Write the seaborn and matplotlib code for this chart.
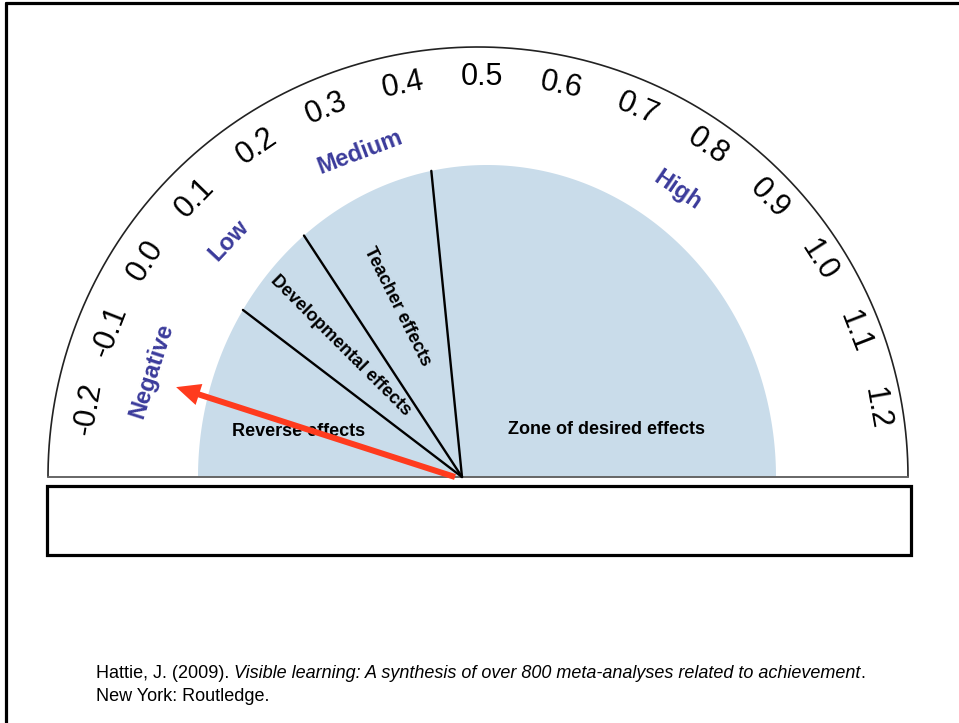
import numpy as np
import pandas as pd
import seaborn as sns
import matplotlib.pyplot as plt
from matplotlib.patches import Rectangle

# dial scale (effect size d)
tick_values = [-0.2, -0.1, 0.0, 0.1, 0.2, 0.3, 0.4, 0.5, 0.6, 0.7, 0.8, 0.9, 1.0, 1.1, 1.2]
tick_labels = ["-0.2", "-0.1", "0.0", "0.1", "0.2", "0.3", "0.4",
               "0.5", "0.6", "0.7", "0.8", "0.9", "1.0", "1.1", "1.2"]

# band names around the dial and where they sit on the scale
band_names = ["Negative", "Low", "Medium", "High"]
band_values = [-0.13, 0.09, 0.32, 0.80]

# zone boundaries drawn inside the blue area
zone_edges = [0.04, 0.21, 0.45]
zone_names = ["Reverse effects", "Developmental effects", "Teacher effects", "Zone of desired effects"]

# needle position
needle_value = -0.13

citation_plain = "Hattie, J. (2009). "
citation_italic = "Visible learning: A synthesis of over 800 meta-analyses related to achievement"
citation_line2 = "New York: Routledge."

sns.set_theme(style="white")
plt.rcParams['font.family'] = ['Liberation Sans', 'DejaVu Sans']

# layout in pixels (origin top-left)
CX, CY = 478, 477        # centre of outer dial
LX = 482                 # centre used for the printed labels
HX = 462                 # hinge of needle / zone lines
R_ARC, R_TICK, R_BAND = 430, 400, 347
EX, EA, EB = 487, 289, 312   # blue half ellipse
BLUE_FILL = "#c9dcea"
BAND_COL = "#3b3b9b"
RED = "#ff3b1e"


def ang(v):
    return np.deg2rad(90 - (v - 0.5) * 114.5)


def ray_to_ellipse(a):
    c, s = np.cos(a), np.sin(a)
    A = (c / EA) ** 2 + (s / EB) ** 2
    B = 2 * (HX - EX) * c / EA ** 2
    C = ((HX - EX) / EA) ** 2 - 1
    return (-B + np.sqrt(B * B - 4 * A * C)) / (2 * A)


fig = plt.figure(figsize=(9.59, 7.23), dpi=100)
ax = fig.add_axes([0, 0, 1, 1])

# blue zone
t = np.linspace(0, np.pi, 300)
ax.fill(EX + EA * np.cos(t), CY - EB * np.sin(t), color=BLUE_FILL, lw=0, zorder=1)

# outer arc + base line
arc = pd.DataFrame({"x": CX + R_ARC * np.cos(t), "y": CY - R_ARC * np.sin(t)})
sns.lineplot(data=arc, x="x", y="y", sort=False, estimator=None,
             color="#222222", lw=1.2, ax=ax, zorder=2)
ax.plot([CX - R_ARC, CX + R_ARC], [CY, CY], color="#666666", lw=1.4, zorder=2)

# zone boundary lines
for v in zone_edges:
    a = ang(v)
    L = ray_to_ellipse(a)
    seg = pd.DataFrame({"x": [HX, HX + L * np.cos(a)], "y": [CY, CY - L * np.sin(a)]})
    sns.lineplot(data=seg, x="x", y="y", sort=False, estimator=None,
                 color="black", lw=1.7, ax=ax, zorder=3)

# tick labels
for v, lab in zip(tick_values, tick_labels):
    a = ang(v)
    ax.text(LX + R_TICK * np.cos(a), CY - R_TICK * np.sin(a), lab,
            rotation=np.rad2deg(a) - 90, rotation_mode="anchor",
            ha="center", va="center", fontsize=22, color="black", zorder=4)

# band labels
for v, lab in zip(band_values, band_names):
    a = ang(v)
    ax.text(LX + R_BAND * np.cos(a), CY - R_BAND * np.sin(a), lab,
            rotation=np.rad2deg(a) - 90, rotation_mode="anchor",
            ha="center", va="center", fontsize=17, fontweight="bold",
            color=BAND_COL, zorder=4)

# zone labels
zkw = dict(fontsize=13, fontweight="bold", color="black", ha="center",
           va="center", rotation_mode="anchor", zorder=4)
ax.text(299, 431, zone_names[0], **zkw)
ax.text(341, 346, zone_names[1], rotation=-45, **zkw)
ax.text(397, 306, zone_names[2], rotation=-63.5, **zkw)
ax.text(606, 430, zone_names[3], **zkw)

# needle
a = ang(needle_value)
L = 293
ax.arrow(HX - 7, CY, L * np.cos(a), -L * np.sin(a), width=6, head_width=22,
         head_length=24, length_includes_head=True, color=RED, lw=0, zorder=5)

# empty box under the dial
ax.add_patch(Rectangle((47, 486), 864, 69, facecolor="white", edgecolor="black",
                       lw=2.3, zorder=2))

# slide frame (top and left edges)
ax.plot([6, 959], [3, 3], color="black", lw=2.3)
ax.plot([6, 6], [3, 723], color="black", lw=2.3)

# citation
t1 = ax.text(96, 682, citation_plain, fontsize=13, va="bottom", ha="left", color="black")
t2 = ax.annotate(citation_italic, xy=(1, 0), xycoords=t1, fontsize=13,
                 style="italic", va="bottom", ha="left", color="black")
ax.annotate(".", xy=(1, 0), xycoords=t2, fontsize=13, va="bottom", ha="left", color="black")
ax.text(96, 705, citation_line2, fontsize=13, va="bottom", ha="left", color="black")

ax.set_xlim(0, 959)
ax.set_ylim(723, 0)
ax.set_aspect("equal")
ax.axis("off")

fig.savefig("out.png", dpi=100)
